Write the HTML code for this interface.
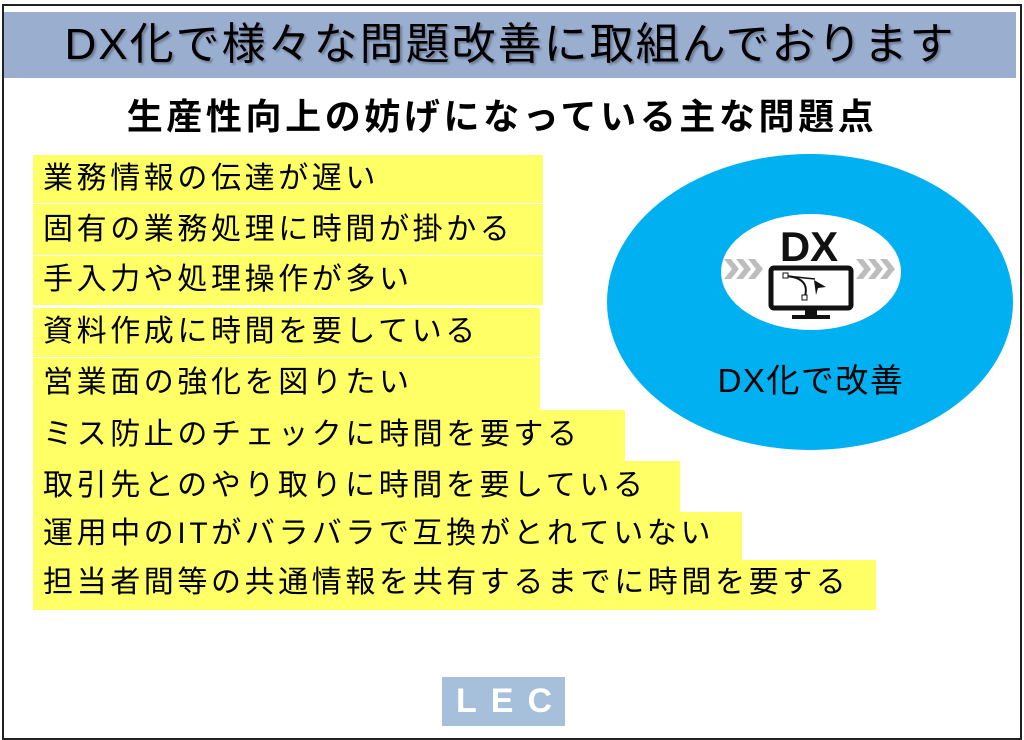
<!DOCTYPE html>
<html><head><meta charset="utf-8"><style>
body{margin:0;width:1024px;height:740px;background:#fff;position:relative;overflow:hidden;font-family:"Liberation Sans","Noto Sans CJK JP",sans-serif}
.frame{position:absolute;left:2px;top:4px;width:1016px;height:732px;border:2px solid #222}
.title{position:absolute;left:4px;top:12px;width:1012px;height:66px;background:#9aaed0;font-size:44px;line-height:66px;text-align:center;color:#000;text-shadow:2px 2px 2px rgba(0,0,0,.3);letter-spacing:2px}
.sub{position:absolute;left:0;top:90px;width:1004px;text-align:center;font-size:36px;font-weight:bold;line-height:54px;letter-spacing:3.6px}
.y{position:absolute;left:33px;background:#ffff66;font-size:30px;padding-left:10px;box-sizing:border-box;letter-spacing:3.6px;white-space:nowrap;color:#000}
.lec{position:absolute;left:442px;top:677px;width:123px;height:49px;background:#a6bfdb;color:#fff;font-weight:bold;font-size:34px;line-height:49px;text-align:center;letter-spacing:14px;text-indent:14px}
</style></head><body>
<div class="frame"></div>
<div class="title">DX化で様々な問題改善に取組んでおります</div>
<div class="sub">生産性向上の妨げになっている主な問題点</div>
<div class="y" style="top:155px;width:510px;height:48px;line-height:48px">業務情報の伝達が遅い</div>
<div class="y" style="top:204px;width:510px;height:51px;line-height:51px">固有の業務処理に時間が掛かる</div>
<div class="y" style="top:256px;width:510px;height:49px;line-height:47px">手入力や処理操作が多い</div>
<div class="y" style="top:308px;width:507px;height:49px;line-height:47px">資料作成に時間を要している</div>
<div class="y" style="top:358px;width:507px;height:52px;line-height:50px">営業面の強化を図りたい</div>
<div class="y" style="top:410px;width:592px;height:51px;line-height:49px">ミス防止のチェックに時間を要する</div>
<div class="y" style="top:461px;width:647px;height:51px;line-height:49px">取引先とのやり取りに時間を要している</div>
<div class="y" style="top:512px;width:709px;height:48px;line-height:44px">運用中のITがバラバラで互換がとれていない</div>
<div class="y" style="top:560px;width:843px;height:50px;line-height:46px">担当者間等の共通情報を共有するまでに時間を要する</div>
<svg style="position:absolute;left:0;top:0" width="1024" height="740">
<ellipse cx="810" cy="302" rx="203" ry="148" fill="#00b0f0"/>
<ellipse cx="811" cy="272" rx="90" ry="58" fill="#fff"/>
<g fill="#bdbdbd">
<polygon points="724,259 731,259 739,269 731,279 724,279 732,269"/>
<polygon points="736,259 743,259 751,269 743,279 736,279 744,269"/>
<polygon points="748,259 755,259 763,269 755,279 748,279 756,269"/>
<polygon points="856,259 863,259 871,269 863,279 856,279 864,269"/>
<polygon points="868,259 875,259 883,269 875,279 868,279 876,269"/>
<polygon points="880,259 887,259 895,269 887,279 880,279 888,269"/>
</g>
<text x="809" y="261" text-anchor="middle" font-family="Liberation Sans" font-weight="bold" font-size="42" fill="#111">DX</text>
<rect x="771" y="268" width="80" height="40" rx="3" fill="none" stroke="#111" stroke-width="5"/>
<rect x="805" y="308" width="12" height="8" fill="#111"/>
<rect x="792" y="315" width="38" height="4" fill="#111"/>
<path d="M786 276 Q810 278 805 296" fill="none" stroke="#111" stroke-width="2"/>
<line x1="786" y1="276" x2="815" y2="279" stroke="#111" stroke-width="1.5"/>
<rect x="783" y="273" width="5" height="5" fill="#fff" stroke="#111"/>
<rect x="802" y="295" width="5" height="5" fill="#fff" stroke="#111"/>
<polygon points="814,280 826,287 818,288 816,295" fill="#111"/>
<text x="811" y="392" text-anchor="middle" font-family="Liberation Sans,Noto Sans CJK JP,sans-serif" font-size="33" letter-spacing="1.5" fill="#000">DX化で改善</text>
</svg>
<div class="lec">LEC</div>
</body></html>
